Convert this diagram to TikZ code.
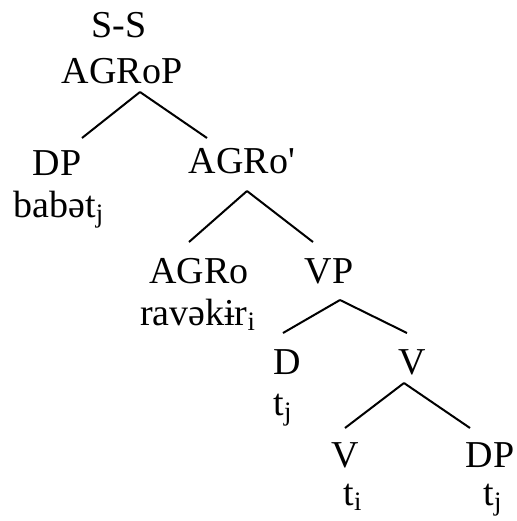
\documentclass[tikz,border=0pt]{standalone}
\usepackage{fontspec}
\setmainfont{Liberation Serif}

\begin{document}
\begin{tikzpicture}[x=.5pt,y=-.5pt,line width=1pt,
  lbl/.style={anchor=base,inner sep=0pt,font=\fontsize{19}{23}\selectfont}]
\useasboundingbox (0,0) rectangle (516,521);
% labels, placed at their base points
\node[lbl] (ss)    at (119,37)  {S-S};
\node[lbl] (agrop) at (122,83)  {AGRoP};
\node[lbl] (dp)    at (57,175)  {DP};
\node[lbl] (babet) at (59,217)  {babət\textsubscript{j}};
\node[lbl] (agrob) at (242,173) {AGRo\textquotesingle};
\node[lbl] (agro)  at (199,283) {AGRo};
\node[lbl] (rav)   at (198,325) {ravəkɨr\textsubscript{i}};
\node[lbl] (vp)    at (329,283) {VP};
\node[lbl] (d)     at (287,374) {D};
\node[lbl] (tjd)   at (283,415) {t\textsubscript{j}};
\node[lbl] (vb)    at (412,374) {V};
\node[lbl] (v)     at (345,467) {V};
\node[lbl] (dpb)   at (490,467) {DP};
\node[lbl] (ti)    at (353,505) {t\textsubscript{i}};
\node[lbl] (tjdp)  at (493,505) {t\textsubscript{j}};
% branches: parent, offset of the apex, child, offset of the end
\foreach \p/\ax/\ay/\c/\bx/\by in {agrop/18/9/dp/25/-37, agrop/18/9/agrob/-35/-35,
    agrob/5/18/agro/-10/-41, agrob/5/18/vp/-16/-41,
    vp/11/17/d/-4/-41, vp/11/17/vb/-5/-41,
    vb/-8/9/v/0/-39, vb/-8/9/dpb/-20/-39}
  \draw ([shift={(\ax,\ay)}]\p.base) -- ([shift={(\bx,\by)}]\c.base);
\end{tikzpicture}
\end{document}
